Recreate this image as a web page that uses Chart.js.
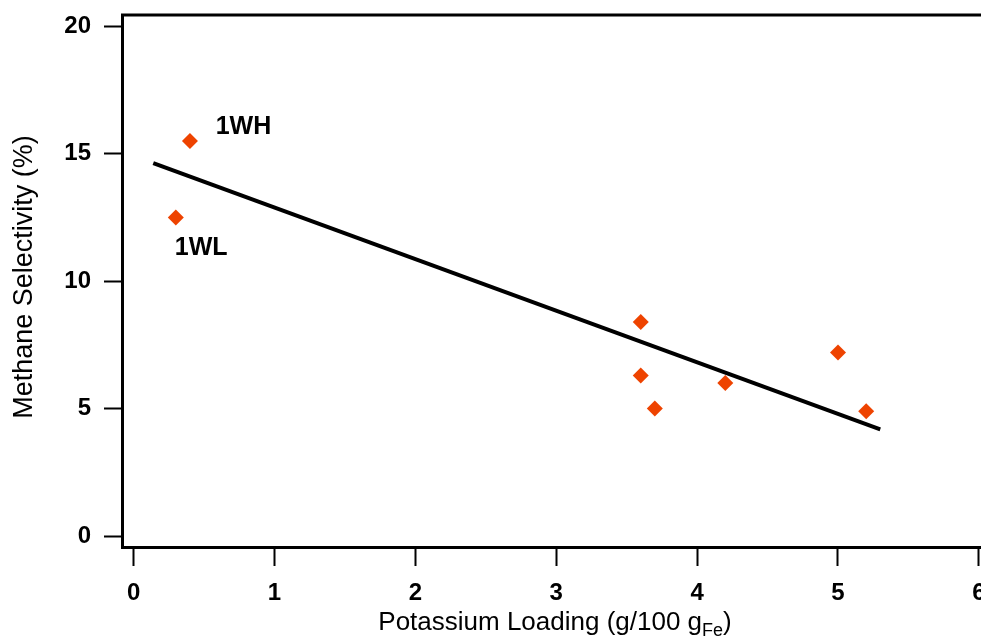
<!DOCTYPE html>
<html>
<head>
<meta charset="utf-8">
<script src="https://cdn.jsdelivr.net/npm/chart.js@4"></script>
<style>
  html, body { margin: 0; padding: 0; background: #fff; }
  #wrap { width: 981px; height: 638px; }
</style>
</head>
<body>
<div id="wrap"><canvas id="selectivityChart" width="981" height="638"></canvas></div>
<script>
// potassium loading (g/100 gFe) vs methane selectivity (%)
const loading = [0.3, 0.4, 3.6, 3.6, 3.7, 4.2, 5.0, 5.2];
const selectivity = [12.5, 15.5, 8.4, 6.3, 5.0, 6.0, 7.2, 4.9];

// trend line end points
const fitX = [0.14, 5.3];
const fitY = [14.63, 4.18];

const xTicks = [0, 1, 2, 3, 4, 5, 6];
const yTicks = [0, 5, 10, 15, 20];

// sample tags
const tagText = ['1WH', '1WL'];
const tagX = [0.78, 0.48];
const tagY = [16.05, 11.28];

const FONT = '"Liberation Sans", Arial, sans-serif';

const extras = {
    id: 'extras',
    afterDraw(chart) {
        const ctx = chart.ctx;
        const area = chart.chartArea;
        const xs = chart.scales.x, ys = chart.scales.y;
        ctx.save();
        // top frame line
        ctx.strokeStyle = '#000';
        ctx.lineWidth = 3;
        ctx.beginPath();
        ctx.moveTo(area.left - 1, area.top);
        ctx.lineTo(area.right, area.top);
        ctx.stroke();

        // tags next to the first two samples
        ctx.fillStyle = '#000';
        ctx.font = 'bold 25px ' + FONT;
        ctx.textAlign = 'center';
        ctx.textBaseline = 'middle';
        tagText.forEach((t, i) => {
            ctx.fillText(t, xs.getPixelForValue(tagX[i]), ys.getPixelForValue(tagY[i]));
        });

        // x axis title with subscript
        ctx.textAlign = 'left';
        ctx.textBaseline = 'alphabetic';
        const main = 'Potassium Loading (g/100 g';
        const sub = 'Fe';
        ctx.font = '26px ' + FONT;
        const w1 = ctx.measureText(main).width;
        ctx.font = '18px ' + FONT;
        const w2 = ctx.measureText(sub).width;
        ctx.font = '26px ' + FONT;
        const w3 = ctx.measureText(')').width;
        const x0 = 555 - (w1 + w2 + w3) / 2;
        const base = 630;
        ctx.fillText(main, x0, base);
        ctx.font = '18px ' + FONT;
        ctx.fillText(sub, x0 + w1, base + 6);
        ctx.font = '26px ' + FONT;
        ctx.fillText(')', x0 + w1 + w2, base);

        // y axis title
        ctx.translate(25, 277);
        ctx.rotate(-Math.PI / 2);
        ctx.textAlign = 'center';
        ctx.textBaseline = 'middle';
        ctx.font = '27px ' + FONT;
        ctx.fillText('Methane Selectivity (%)', 0, 0);
        ctx.restore();
    }
};

const ctx = document.getElementById('selectivityChart').getContext('2d');
const chart = new Chart(ctx, {
    type: 'scatter',
    data: {
        datasets: [
            {
                label: 'Samples',
                data: loading.map((v, i) => ({ x: v, y: selectivity[i] })),
                pointStyle: 'rectRot',
                pointRadius: 8,
                pointBackgroundColor: '#EE4300',
                pointBorderWidth: 0,
                order: 0
            },
            {
                label: 'Trend',
                type: 'line',
                data: fitX.map((v, i) => ({ x: v, y: fitY[i] })),
                borderColor: '#000',
                borderWidth: 4,
                pointRadius: 0,
                fill: false,
                order: 1
            }
        ]
    },
    options: {
        responsive: false,
        animation: false,
        layout: { autoPadding: false, padding: { top: 15, left: 0, right: 0, bottom: 0 } },
        plugins: {
            legend: { display: false },
            tooltip: { enabled: false }
        },
        scales: {
            x: {
                type: 'linear',
                min: -0.082,
                max: 6.015,
                afterBuildTicks: s => { s.ticks = xTicks.map(v => ({ value: v })); },
                afterFit: s => { s.height = 91; s.paddingLeft = 0; s.paddingRight = 0; },
                grid: {
                    drawOnChartArea: false,
                    drawTicks: true,
                    tickLength: 19,
                    tickWidth: 2,
                    tickColor: '#000'
                },
                border: { display: true, color: '#000', width: 3 },
                ticks: {
                    color: '#000',
                    font: { family: FONT, size: 24, weight: 'bold' },
                    padding: 13,
                    maxRotation: 0
                }
            },
            y: {
                type: 'linear',
                min: -0.43,
                max: 20.44,
                afterBuildTicks: s => { s.ticks = yTicks.map(v => ({ value: v })); },
                afterFit: s => { s.width = 122; s.paddingTop = 0; s.paddingBottom = 0; },
                grid: {
                    drawOnChartArea: false,
                    drawTicks: true,
                    tickLength: 18,
                    tickWidth: 2,
                    tickColor: '#000'
                },
                border: { display: true, color: '#000', width: 3 },
                ticks: {
                    color: '#000',
                    font: { family: FONT, size: 24, weight: 'bold' },
                    padding: 13
                }
            }
        }
    },
    plugins: [extras]
});
</script>
</body>
</html>
